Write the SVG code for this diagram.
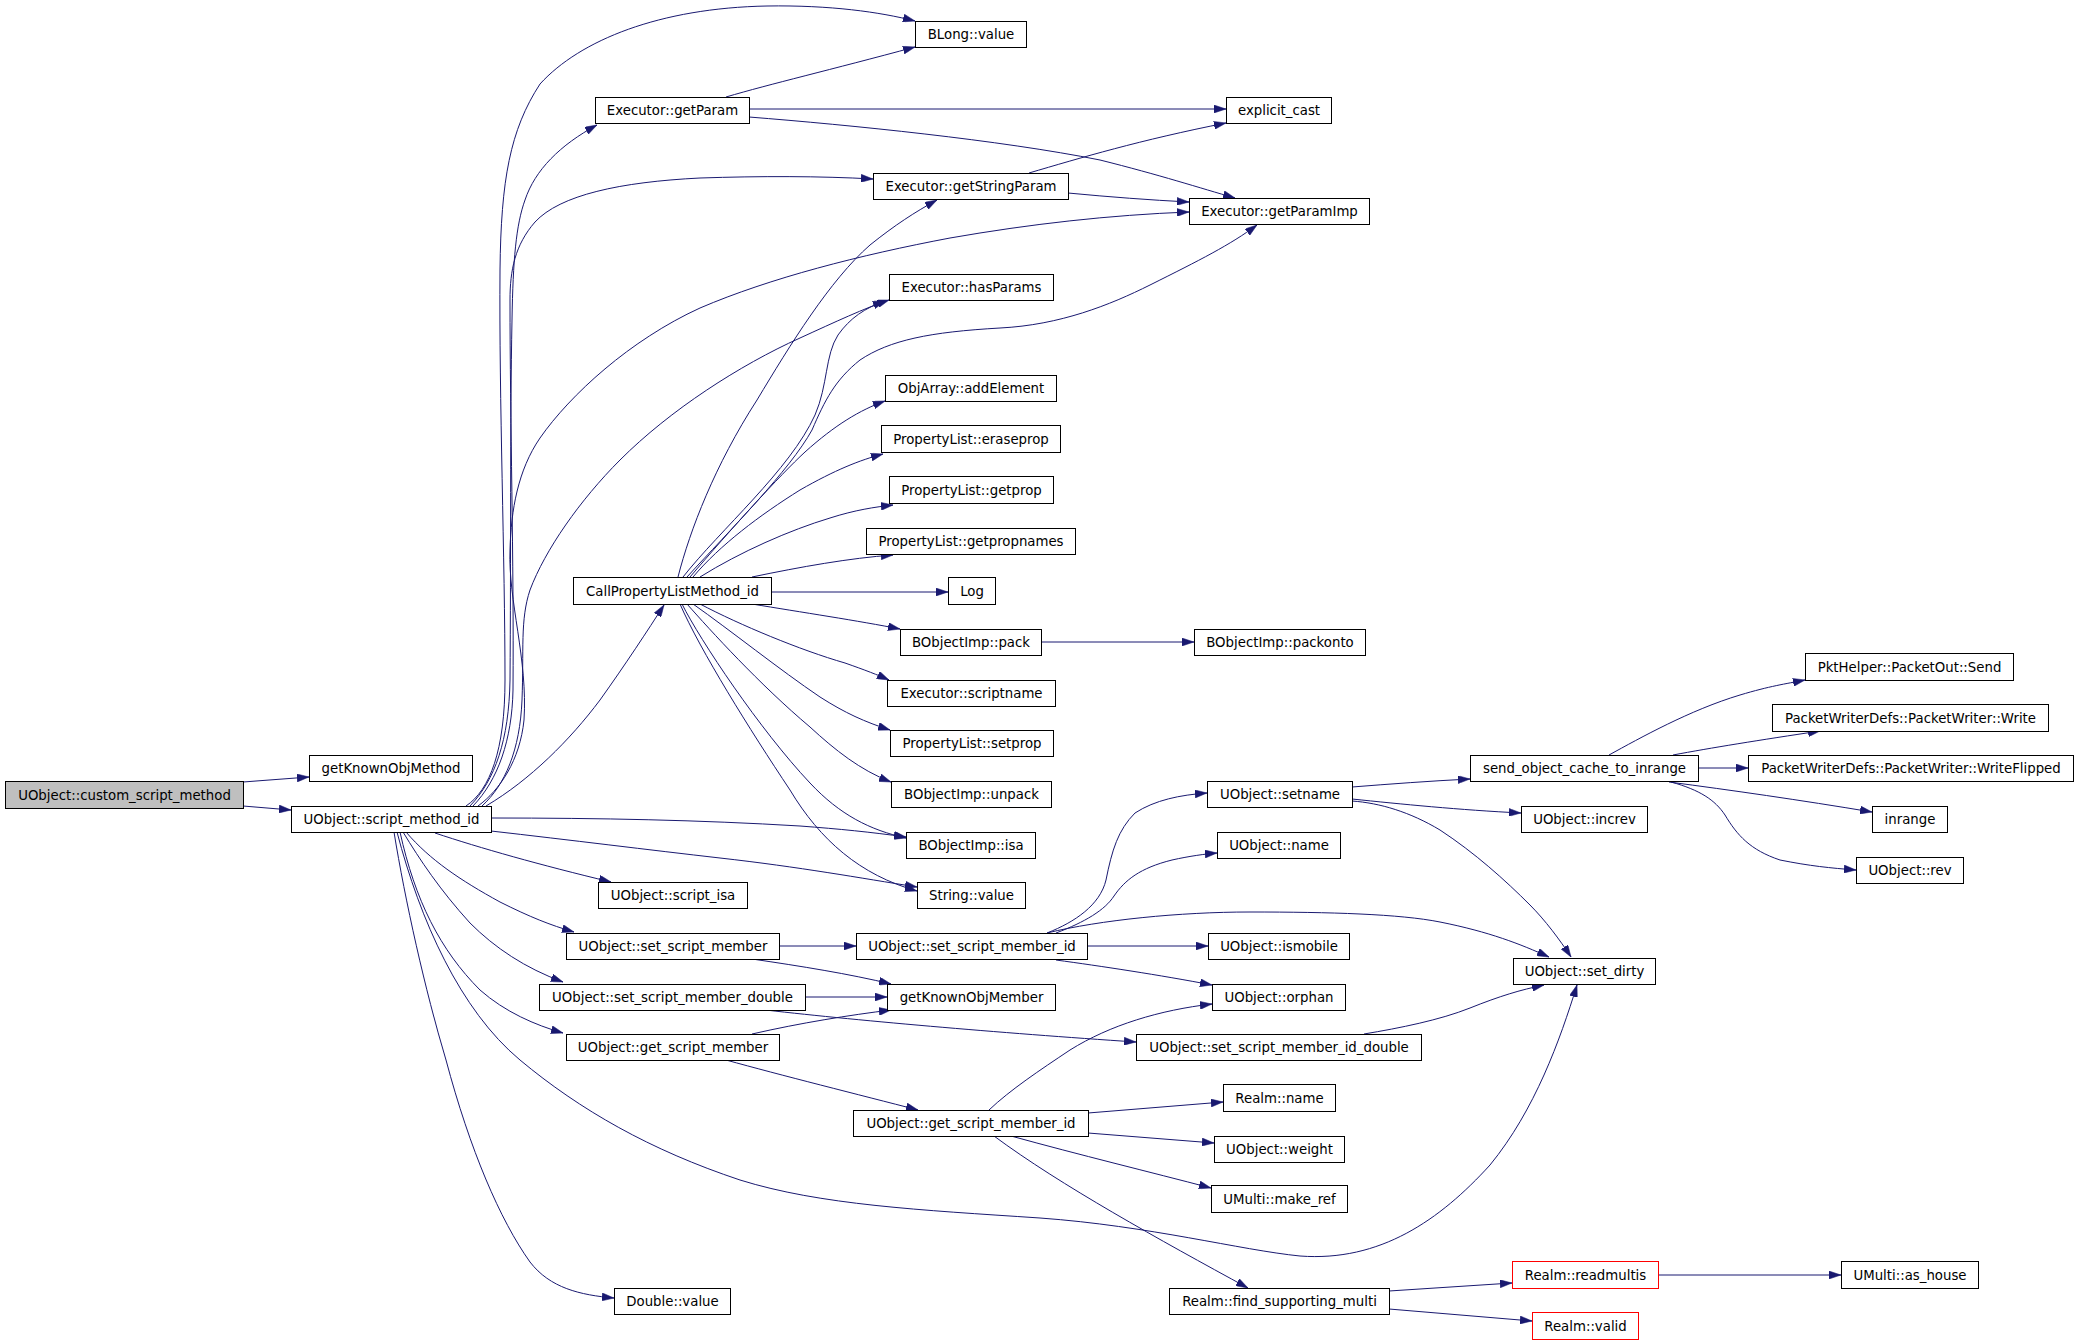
<svg xmlns="http://www.w3.org/2000/svg" width="2077" height="1344" viewBox="0 0 2077 1344">
<style>
.n rect{fill:#ffffff;stroke:#000000;stroke-width:1}
.n.root rect{fill:#bfbfbf}
.n.red rect{stroke:#ff0000}
.n text{font-family:"DejaVu Sans","Liberation Sans",sans-serif;font-size:13.3px;text-anchor:middle;fill:#000000}
#edges path{fill:none;stroke:#191970;stroke-width:1;marker-end:url(#ah)}
</style>
<defs>
<marker id="ah" viewBox="0 0 12 8" refX="12" refY="4" markerWidth="12" markerHeight="8" markerUnits="userSpaceOnUse" orient="auto">
<path d="M0,0 L12,4 L0,8 z" fill="#191970" stroke="#191970" stroke-width="0.5"/>
</marker>
</defs>
<rect x="0" y="0" width="2077" height="1344" fill="#ffffff"/>
<g id="edges">
<path d="M243,782 L309,777"/>
<path d="M243,806 L291,810"/>
<path d="M466,806 C490,790 505,750 505,680 C505,560 499,400 500,270 C501,180 510,130 540,84 C580,40 660,8 767,6 C830,5 880,12 915,21"/>
<path d="M470,806 C495,780 509,740 510,680 C511,560 510,420 512,320 C513,260 516,225 525,200 C535,170 560,145 597,125"/>
<path d="M473,806 C498,780 512,740 513,690 C514,560 510,420 510,300 C510,270 515,245 535,222 C560,195 620,182 700,178 C760,176 820,176 873,179"/>
<path d="M478,806 C500,790 520,760 524,720 C528,660 508,600 510,550 C511,510 518,470 540,438 C570,395 630,340 700,308 C770,278 860,255 950,238 C1030,224 1110,215 1189,212"/>
<path d="M482,806 C505,785 520,750 522,700 C524,650 520,620 530,590 C545,550 580,500 620,460 C670,410 740,365 800,338 C835,322 865,308 889,300"/>
<path d="M486,806 C530,780 570,740 600,700 C625,665 648,630 664,605"/>
<path d="M491,818 C600,818 700,820 800,826 C840,829 870,832 906,837"/>
<path d="M491,831 C570,840 650,850 720,858 C800,867 860,878 917,887"/>
<path d="M435,833 C480,848 540,865 611,882"/>
<path d="M406,832 C430,860 460,880 500,902 C530,917 550,925 574,932"/>
<path d="M403,832 C420,860 440,890 470,923 C495,948 525,968 563,982"/>
<path d="M400,832 C415,900 440,950 480,990 C505,1012 535,1025 563,1033"/>
<path d="M397,832 C420,920 460,1010 520,1060 C580,1110 650,1150 740,1180 C820,1205 920,1210 1040,1218 C1150,1226 1240,1250 1300,1256 C1380,1262 1440,1220 1490,1165 C1535,1110 1560,1040 1577,985"/>
<path d="M394,832 C405,900 425,990 446,1060 C470,1150 500,1220 530,1262 C550,1288 580,1295 614,1298"/>
<path d="M678,577 C690,530 715,465 757,400 C790,345 830,280 870,245 C895,225 915,212 937,200"/>
<path d="M683,577 C720,530 790,470 815,415 C828,385 825,355 838,335 C850,318 865,308 885,301"/>
<path d="M687,577 C730,530 790,470 812,430 C825,400 835,380 860,360 C890,340 930,332 1000,328 C1060,325 1110,305 1150,285 C1200,260 1230,245 1257,225"/>
<path d="M690,577 C730,530 780,475 805,452 C835,425 860,410 885,401"/>
<path d="M693,577 C720,545 760,515 800,490 C835,470 860,460 883,454"/>
<path d="M700,577 C740,552 790,530 830,518 C855,510 875,507 893,505"/>
<path d="M752,577 C800,567 850,558 893,555"/>
<path d="M771,592 L948,592"/>
<path d="M752,604 C800,612 860,621 900,629"/>
<path d="M700,604 C740,625 800,650 845,663 C865,670 878,675 889,680"/>
<path d="M693,604 C730,630 780,670 820,697 C845,713 865,722 890,730"/>
<path d="M687,604 C710,630 760,685 810,727 C835,750 860,770 891,782"/>
<path d="M682,604 C700,640 760,730 810,783 C840,815 870,830 906,838"/>
<path d="M680,604 C700,650 750,730 790,790 C820,840 860,875 917,891"/>
<path d="M726,97 C770,84 830,70 915,47"/>
<path d="M749,109 L1226,109"/>
<path d="M749,117 C850,125 1000,140 1100,160 C1160,175 1200,188 1235,198"/>
<path d="M1029,173 C1080,158 1140,140 1226,123"/>
<path d="M1068,193 C1110,197 1150,200 1189,202"/>
<path d="M1041,642 L1194,642"/>
<path d="M779,946 L856,946"/>
<path d="M752,959 C800,966 850,974 891,984"/>
<path d="M805,997 L887,997"/>
<path d="M757,1009 C850,1020 1000,1033 1136,1042"/>
<path d="M752,1034 C800,1023 850,1015 891,1010"/>
<path d="M726,1060 C780,1075 860,1095 918,1110"/>
<path d="M1047,933 C1075,922 1100,905 1106,880 C1112,850 1118,830 1135,813 C1155,800 1180,795 1207,793"/>
<path d="M1056,933 C1085,922 1105,910 1114,896 C1125,880 1140,868 1172,860 C1190,856 1205,854 1217,853"/>
<path d="M1087,946 L1208,946"/>
<path d="M1056,960 C1100,966 1160,975 1212,985"/>
<path d="M1047,933 C1100,920 1180,912 1250,912 C1330,912 1400,914 1440,922 C1490,932 1520,944 1549,957"/>
<path d="M1352,787 C1390,784 1430,781 1470,779"/>
<path d="M1352,799 C1400,804 1460,810 1521,813"/>
<path d="M1352,801 C1380,803 1410,812 1440,830 C1475,853 1505,880 1530,905 C1545,920 1560,940 1571,957"/>
<path d="M1609,755 C1640,738 1690,710 1740,695 C1770,686 1785,684 1805,680"/>
<path d="M1673,755 C1710,748 1760,740 1820,731"/>
<path d="M1698,768 L1748,768"/>
<path d="M1669,782 C1730,790 1800,800 1872,812"/>
<path d="M1671,782 C1700,790 1715,800 1725,815 C1737,835 1750,850 1780,860 C1810,866 1830,868 1856,870"/>
<path d="M1364,1034 C1400,1028 1440,1020 1470,1008 C1500,996 1520,990 1544,985"/>
<path d="M989,1110 C1010,1090 1040,1070 1070,1050 C1110,1025 1160,1010 1212,1004"/>
<path d="M1088,1113 L1223,1102"/>
<path d="M1088,1133 L1214,1143"/>
<path d="M1011,1136 C1080,1155 1150,1172 1211,1188"/>
<path d="M994,1136 C1060,1185 1160,1240 1248,1288"/>
<path d="M1389,1291 L1512,1283"/>
<path d="M1389,1309 L1532,1321"/>
<path d="M1658,1275 L1841,1275"/>
</g>
<g id="n-custom" class="n root"><rect x="5.5" y="781.5" width="238" height="27"/><text x="124.5" y="799.7">UObject::custom_script_method</text></g>
<g id="n-getKnownObjMethod" class="n"><rect x="309.5" y="755.5" width="163" height="26"/><text x="391" y="773.2">getKnownObjMethod</text></g>
<g id="n-script_method_id" class="n"><rect x="291.5" y="806.5" width="200" height="26"/><text x="391.5" y="824.2">UObject::script_method_id</text></g>
<g id="n-getParam" class="n"><rect x="595.5" y="97.5" width="154" height="26"/><text x="672.5" y="115.2">Executor::getParam</text></g>
<g id="n-BLong" class="n"><rect x="915.5" y="21.5" width="111" height="26"/><text x="971" y="39.2">BLong::value</text></g>
<g id="n-explicit_cast" class="n"><rect x="1226.5" y="97.5" width="105" height="26"/><text x="1279" y="115.2">explicit_cast</text></g>
<g id="n-getStringParam" class="n"><rect x="873.5" y="173.5" width="195" height="26"/><text x="971" y="191.2">Executor::getStringParam</text></g>
<g id="n-getParamImp" class="n"><rect x="1189.5" y="198.5" width="180" height="26"/><text x="1279.5" y="216.2">Executor::getParamImp</text></g>
<g id="n-hasParams" class="n"><rect x="889.5" y="274.5" width="164" height="26"/><text x="971.5" y="292.2">Executor::hasParams</text></g>
<g id="n-addElement" class="n"><rect x="885.5" y="375.5" width="171" height="26"/><text x="971" y="393.2">ObjArray::addElement</text></g>
<g id="n-eraseprop" class="n"><rect x="881.5" y="425.5" width="179" height="27"/><text x="971" y="443.7">PropertyList::eraseprop</text></g>
<g id="n-CallPL" class="n"><rect x="573.5" y="577.5" width="198" height="27"/><text x="672.5" y="595.7">CallPropertyListMethod_id</text></g>
<g id="n-getprop" class="n"><rect x="889.5" y="476.5" width="164" height="27"/><text x="971.5" y="494.7">PropertyList::getprop</text></g>
<g id="n-getpropnames" class="n"><rect x="866.5" y="528.5" width="209" height="26"/><text x="971" y="546.2">PropertyList::getpropnames</text></g>
<g id="n-Log" class="n"><rect x="948.5" y="577.5" width="47" height="27"/><text x="972" y="595.7">Log</text></g>
<g id="n-pack" class="n"><rect x="900.5" y="629.5" width="141" height="26"/><text x="971" y="647.2">BObjectImp::pack</text></g>
<g id="n-packonto" class="n"><rect x="1194.5" y="629.5" width="171" height="26"/><text x="1280" y="647.2">BObjectImp::packonto</text></g>
<g id="n-scriptname" class="n"><rect x="887.5" y="680.5" width="168" height="26"/><text x="971.5" y="698.2">Executor::scriptname</text></g>
<g id="n-setprop" class="n"><rect x="890.5" y="730.5" width="163" height="26"/><text x="972" y="748.2">PropertyList::setprop</text></g>
<g id="n-unpack" class="n"><rect x="891.5" y="781.5" width="160" height="26"/><text x="971.5" y="799.2">BObjectImp::unpack</text></g>
<g id="n-setname" class="n"><rect x="1207.5" y="781.5" width="145" height="26"/><text x="1280" y="799.2">UObject::setname</text></g>
<g id="n-isa" class="n"><rect x="906.5" y="832.5" width="129" height="26"/><text x="971" y="850.2">BObjectImp::isa</text></g>
<g id="n-name" class="n"><rect x="1217.5" y="832.5" width="123" height="26"/><text x="1279" y="850.2">UObject::name</text></g>
<g id="n-Stringvalue" class="n"><rect x="917.5" y="882.5" width="108" height="26"/><text x="971.5" y="900.2">String::value</text></g>
<g id="n-script_isa" class="n"><rect x="598.5" y="882.5" width="149" height="26"/><text x="673" y="900.2">UObject::script_isa</text></g>
<g id="n-Send" class="n"><rect x="1805.5" y="653.5" width="208" height="27"/><text x="1909.5" y="671.7">PktHelper::PacketOut::Send</text></g>
<g id="n-Write" class="n"><rect x="1772.5" y="704.5" width="276" height="27"/><text x="1910.5" y="722.7">PacketWriterDefs::PacketWriter::Write</text></g>
<g id="n-send_cache" class="n"><rect x="1470.5" y="755.5" width="228" height="26"/><text x="1584.5" y="773.2">send_object_cache_to_inrange</text></g>
<g id="n-WriteFlipped" class="n"><rect x="1748.5" y="755.5" width="325" height="26"/><text x="1911" y="773.2">PacketWriterDefs::PacketWriter::WriteFlipped</text></g>
<g id="n-increv" class="n"><rect x="1521.5" y="806.5" width="126" height="26"/><text x="1584.5" y="824.2">UObject::increv</text></g>
<g id="n-inrange" class="n"><rect x="1872.5" y="806.5" width="75" height="26"/><text x="1910" y="824.2">inrange</text></g>
<g id="n-rev" class="n"><rect x="1856.5" y="857.5" width="107" height="26"/><text x="1910" y="875.2">UObject::rev</text></g>
<g id="n-set_script_member" class="n"><rect x="566.5" y="933.5" width="213" height="26"/><text x="673" y="951.2">UObject::set_script_member</text></g>
<g id="n-set_script_member_double" class="n"><rect x="539.5" y="984.5" width="266" height="26"/><text x="672.5" y="1002.2">UObject::set_script_member_double</text></g>
<g id="n-get_script_member" class="n"><rect x="566.5" y="1034.5" width="213" height="26"/><text x="673" y="1052.2">UObject::get_script_member</text></g>
<g id="n-Doublevalue" class="n"><rect x="614.5" y="1288.5" width="116" height="26"/><text x="672.5" y="1306.2">Double::value</text></g>
<g id="n-set_script_member_id" class="n"><rect x="856.5" y="933.5" width="231" height="26"/><text x="972" y="951.2">UObject::set_script_member_id</text></g>
<g id="n-ismobile" class="n"><rect x="1208.5" y="933.5" width="141" height="26"/><text x="1279" y="951.2">UObject::ismobile</text></g>
<g id="n-getKnownObjMember" class="n"><rect x="887.5" y="984.5" width="168" height="26"/><text x="971.5" y="1002.2">getKnownObjMember</text></g>
<g id="n-orphan" class="n"><rect x="1212.5" y="984.5" width="133" height="26"/><text x="1279" y="1002.2">UObject::orphan</text></g>
<g id="n-set_script_member_id_double" class="n"><rect x="1136.5" y="1034.5" width="285" height="26"/><text x="1279" y="1052.2">UObject::set_script_member_id_double</text></g>
<g id="n-Realmname" class="n"><rect x="1223.5" y="1084.5" width="112" height="27"/><text x="1279.5" y="1102.7">Realm::name</text></g>
<g id="n-get_script_member_id" class="n"><rect x="853.5" y="1110.5" width="235" height="26"/><text x="971" y="1128.2">UObject::get_script_member_id</text></g>
<g id="n-weight" class="n"><rect x="1214.5" y="1136.5" width="130" height="26"/><text x="1279.5" y="1154.2">UObject::weight</text></g>
<g id="n-make_ref" class="n"><rect x="1211.5" y="1185.5" width="136" height="27"/><text x="1279.5" y="1203.7">UMulti::make_ref</text></g>
<g id="n-set_dirty" class="n"><rect x="1513.5" y="958.5" width="142" height="26"/><text x="1584.5" y="976.2">UObject::set_dirty</text></g>
<g id="n-find_supporting_multi" class="n"><rect x="1169.5" y="1288.5" width="220" height="26"/><text x="1279.5" y="1306.2">Realm::find_supporting_multi</text></g>
<g id="n-readmultis" class="n red"><rect x="1512.5" y="1261.5" width="146" height="27"/><text x="1585.5" y="1279.7">Realm::readmultis</text></g>
<g id="n-as_house" class="n"><rect x="1841.5" y="1261.5" width="137" height="27"/><text x="1910" y="1279.7">UMulti::as_house</text></g>
<g id="n-valid" class="n red"><rect x="1532.5" y="1312.5" width="106" height="27"/><text x="1585.5" y="1330.7">Realm::valid</text></g>
</svg>
